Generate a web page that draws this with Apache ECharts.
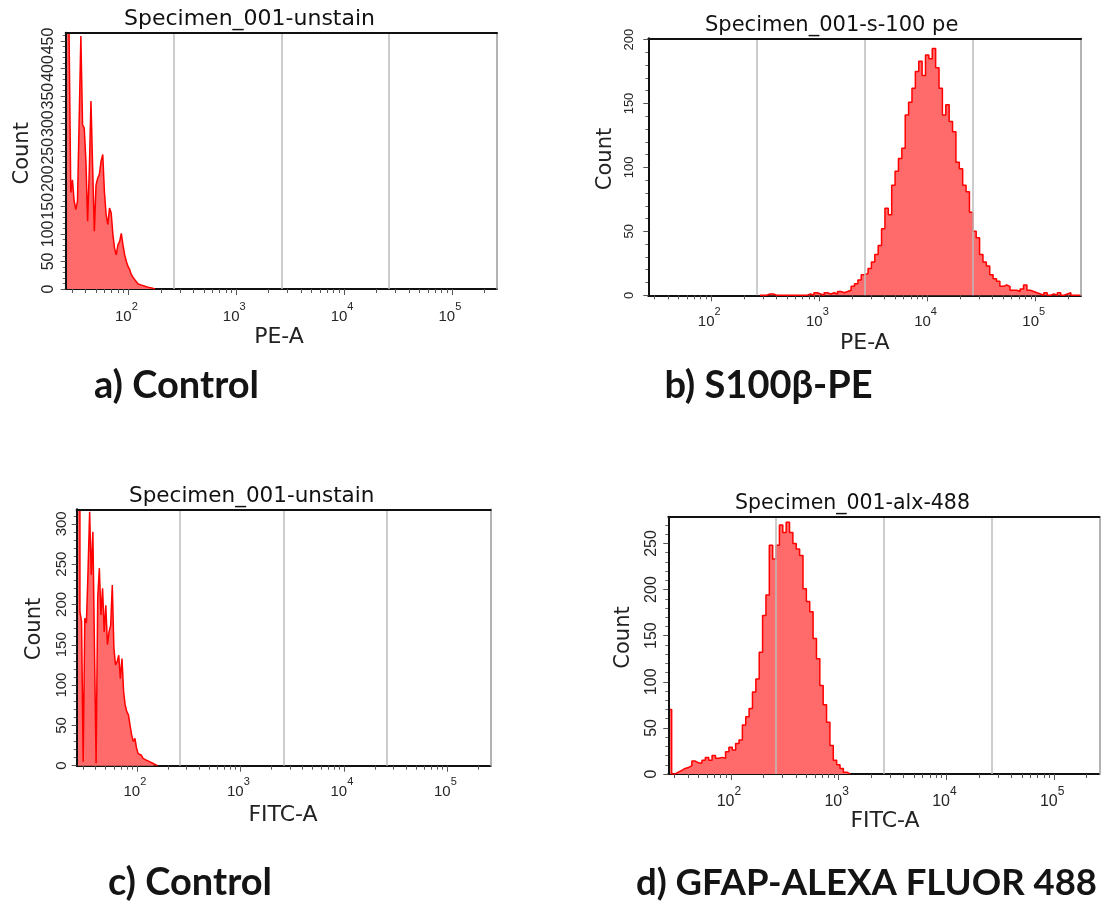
<!DOCTYPE html>
<html>
<head>
<meta charset="utf-8">
<script src="https://cdn.jsdelivr.net/npm/echarts@6/dist/echarts.min.js"></script>
<style>
html,body{margin:0;padding:0;background:#ffffff;}
#chart{width:1101px;height:902px;}
</style>
</head>
<body>
<div id="chart"></div>
<script>
// ---------------- data ----------------
const X_MIN = 26.2144;
const X_MAX = 262144;
const decadeTicks = [100, 1000, 10000, 100000];
const decadeExp = ['2', '3', '4', '5'];
const minorTicks = [30,40,50,60,70,80,90,200,300,400,500,600,700,800,900,
  2000,3000,4000,5000,6000,7000,8000,9000,20000,30000,40000,50000,60000,70000,80000,90000,200000];
const quarterLines = [262.144, 2621.44, 26214.4];

const yLabelsA = [0,50,100,150,200,250,300,350,400,450];
const yLabelsB = [0,50,100,150,200];
const yLabelsC = [0,50,100,150,200,250,300];
const yLabelsD = [0,50,100,150,200,250];

const countsA = [465,465,462,175,198,160,144,160,307,459,298,292,232,123,214,341,220,105,189,201,
  208,232,244,175,135,117,147,138,99,74,62,80,86,101,80,62,50,41,35,26,21,17,13,9,7,5,5,4,3,3,2,1,0];
const countsB = [0,0,1,1,0,0,0,0,0,0,0,0,0,0,1,0,2,1,0,2,1,2,1,3,2,3,4,7,9,12,16,17,21,26,32,39,52,68,63,86,
  97,107,115,141,151,162,175,183,172,188,185,193,178,162,141,149,136,128,104,99,86,81,65,50,45,32,26,23,16,13,
  11,7,8,7,4,4,3,5,8,4,3,2,1,0,2,0,1,0,2,0,1,2,0,0,0];
const countsC = [318,317,191,179,5,183,177,241,315,237,290,146,3,208,245,187,220,166,199,150,
  166,174,224,146,125,129,137,108,133,92,75,67,63,50,38,30,34,22,15,13,11,9,7,6,5,5,3,2,1,0];
const countsD = [70,0,2,4,6,7,9,14,12,12,15,18,15,20,17,18,17,24,29,26,33,37,53,62,71,89,103,132,172,194,
  248,233,248,270,262,273,262,250,244,237,201,187,176,147,125,96,75,56,31,15,10,6,2,0];

const binsPerDecadeA = 64, startBinA = 0;
const binsPerDecadeB = 32, startBinB = 33;
const binsPerDecadeC = 64, startBinC = 0;
const binsPerDecadeD = 32, startBinD = 0;

const yMaxA = 465, yMaxB = 201, yMaxC = 318, yMaxD = 279;

const titles = ['Specimen_001-unstain', 'Specimen_001-s-100 pe', 'Specimen_001-unstain', 'Specimen_001-alx-488'];
const xNames = ['PE-A', 'PE-A', 'FITC-A', 'FITC-A'];
const yName = 'Count';
const captions = ['a) Control', 'b) S100β-PE', 'c) Control', 'd) GFAP-ALEXA FLUOR 488'];

// ---------------- layout ----------------
const layout = [
  {box:[65.7, 32.7, 431.3, 256.3], yFont:16, yMargin:9.5, xFont:15, xMargin:12,
   title:[249.5, 19.5, 22], yn:[22.5, 153.3], xn:[279, 337.5], cap:[176.5, 386, 38]},
  {box:[648.3, 38.3, 432.7, 257], yFont:13, yMargin:12.5, xFont:15, xMargin:11,
   title:[831.7, 26, 21], yn:[605.8, 159], xn:[864.8, 343], cap:[768.5, 386, 38]},
  {box:[76.7, 509.3, 414, 256.4], yFont:15, yMargin:7.5, xFont:15, xMargin:10.5,
   title:[251.7, 496, 21.5], yn:[34.7, 629], xn:[283, 815.7], cap:[190, 883, 38]},
  {box:[668.3, 516.7, 431, 257.3], yFont:16, yMargin:8.5, xFont:16, xMargin:11.5,
   title:[852.5, 504, 20.5], yn:[624, 637.5], xn:[885, 821.7], cap:[866.5, 883, 36.5]}
];

const panels = [
  {counts:countsA, bpd:binsPerDecadeA, start:startBinA, ymax:yMaxA, yLabels:yLabelsA},
  {counts:countsB, bpd:binsPerDecadeB, start:startBinB, ymax:yMaxB, yLabels:yLabelsB},
  {counts:countsC, bpd:binsPerDecadeC, start:startBinC, ymax:yMaxC, yLabels:yLabelsC},
  {counts:countsD, bpd:binsPerDecadeD, start:startBinD, ymax:yMaxD, yLabels:yLabelsD}
];

// ---------------- build ----------------
const lg = v => Math.log10(v);
const LOG_MIN = lg(X_MIN), LOG_MAX = lg(X_MAX);
const TICK_FONT = '"Liberation Sans Narrow", "Liberation Sans", Arial, sans-serif';
const LABEL_FONT = '"Liberation Sans", Arial, sans-serif';
const NAME_FONT = '"DejaVu Sans", Verdana, sans-serif';

const grid = [], xAxis = [], yAxis = [], series = [], graphic = [];

panels.forEach((p, k) => {
  const L = layout[k];
  grid.push({left:L.box[0], top:L.box[1], width:L.box[2], height:L.box[3], containLabel:false});

  const xBase = {type:'value', gridIndex:k, min:LOG_MIN, max:LOG_MAX, splitLine:{show:false}};
  xAxis.push(Object.assign({}, xBase, {
    position:'bottom', z:3,
    axisLine:{show:true, onZero:false, lineStyle:{color:'#111', width:2}},
    axisTick:{show:true, customValues:minorTicks.map(lg), length:4, lineStyle:{color:'#555', width:1}},
    axisLabel:{show:true, customValues:decadeTicks.map(lg), margin:L.xMargin,
      formatter:(v) => {
        let i = 0;
        decadeTicks.forEach((d, j) => { if (Math.abs(lg(d) - v) < 1e-6) i = j; });
        return '{b|10}{s|' + decadeExp[i] + '}';
      },
      rich:{
        b:{fontSize:L.xFont, fontFamily:TICK_FONT, color:'#262626', verticalAlign:'bottom'},
        s:{fontSize:Math.round(L.xFont*0.72), fontFamily:TICK_FONT, color:'#262626', padding:[0,4,12,0]}
      }}
  }));
  xAxis.push(Object.assign({}, xBase, {
    position:'bottom', z:3,
    axisLine:{show:false, onZero:false},
    axisTick:{show:true, customValues:decadeTicks.map(lg), length:6, lineStyle:{color:'#555', width:1}},
    axisLabel:{show:false}
  }));
  // top axis: frame + quarter grid lines (drawn over the histogram)
  xAxis.push(Object.assign({}, xBase, {
    position:'top', z:12,
    axisLine:{show:true, onZero:false, lineStyle:{color:'#111', width:2}},
    axisTick:{show:false, customValues:quarterLines.map(lg)},
    axisLabel:{show:false},
    splitLine:{show:true, lineStyle:{color:'#bcbcbc', width:1.5}}
  }));

  const minorY = [];
  for (let v = 0; v <= p.ymax; v += 10) minorY.push(v);
  const yBase = {type:'value', gridIndex:k, min:0, max:p.ymax, splitLine:{show:false}};
  yAxis.push(Object.assign({}, yBase, {
    position:'left', z:12,
    axisLine:{show:true, onZero:false, lineStyle:{color:'#111', width:2}},
    axisTick:{show:true, customValues:p.yLabels, length:5, lineStyle:{color:'#555', width:1}},
    axisLabel:{show:true, customValues:p.yLabels, rotate:90, margin:L.yMargin,
      fontSize:L.yFont, fontFamily:LABEL_FONT, color:'#262626'}
  }));
  yAxis.push(Object.assign({}, yBase, {
    position:'left', z:3,
    axisLine:{show:false, onZero:false},
    axisTick:{show:true, customValues:minorY, length:3, lineStyle:{color:'#666', width:1}},
    axisLabel:{show:false}
  }));
  yAxis.push(Object.assign({}, yBase, {
    position:'right', z:12,
    axisLine:{show:true, onZero:false, lineStyle:{color:'#9a9a9a', width:1.5}},
    axisTick:{show:false},
    axisLabel:{show:false}
  }));

  const data = [];
  p.counts.forEach((c, i) => data.push([LOG_MIN + (p.start + i) / p.bpd, c]));
  data.push([LOG_MIN + (p.start + p.counts.length) / p.bpd, p.counts[p.counts.length - 1]]);
  series.push({
    type:'line', xAxisIndex:3*k, yAxisIndex:3*k, data:data, step:'end',
    symbol:'none', z:5,
    lineStyle:{color:'#ff0000', width:1.5},
    areaStyle:{color:'#ff6a6a', opacity:1}
  });

  graphic.push({type:'text', x:L.title[0], y:L.title[1], z:20,
    style:{text:titles[k], fill:'#111', fontSize:L.title[2], fontFamily:NAME_FONT, align:'center', verticalAlign:'middle'}});
  graphic.push({type:'text', x:L.yn[0], y:L.yn[1], rotation:Math.PI/2, z:20,
    style:{text:yName, fill:'#222', fontSize:21, fontFamily:NAME_FONT, align:'center', verticalAlign:'middle'}});
  graphic.push({type:'text', x:L.xn[0], y:L.xn[1], z:20,
    style:{text:xNames[k], fill:'#222', fontSize:22, fontFamily:NAME_FONT, align:'center', verticalAlign:'middle'}});
  graphic.push({type:'text', x:L.cap[0], y:L.cap[1], z:20,
    style:{text:captions[k], fill:'#141414', fontSize:L.cap[2], fontWeight:'bold',
      fontFamily:'Lato, "Noto Sans", sans-serif', align:'center', verticalAlign:'middle'}});
});

const chart = echarts.init(document.getElementById('chart'), null, {renderer:'canvas'});
chart.setOption({
  backgroundColor:'#ffffff',
  animation:false,
  grid:grid, xAxis:xAxis, yAxis:yAxis, series:series, graphic:graphic
});
</script>
</body>
</html>
